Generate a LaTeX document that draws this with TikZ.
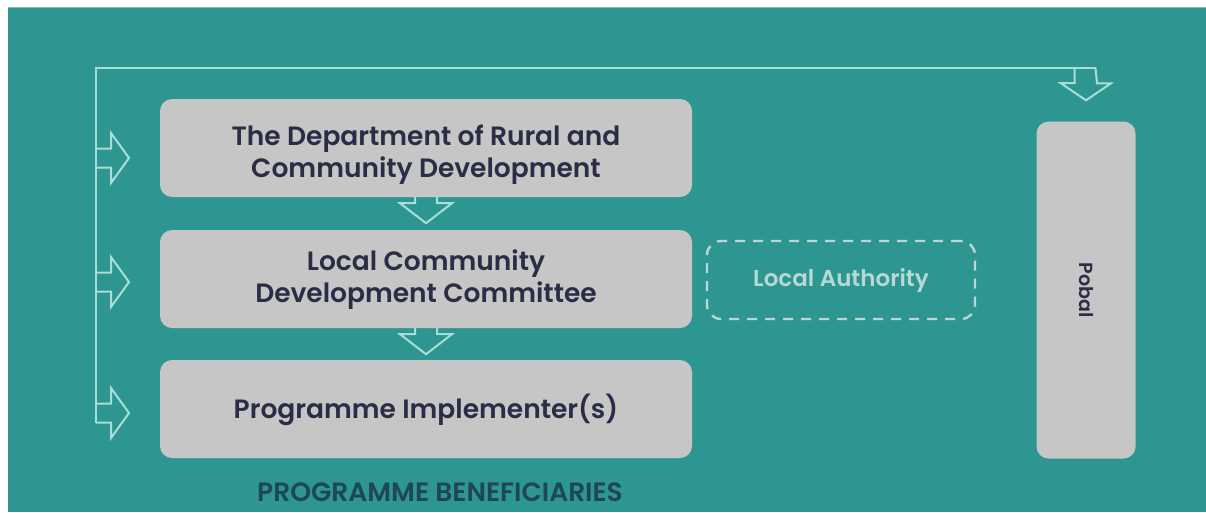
\documentclass[tikz,border=0pt]{standalone}
\usepackage{fontspec}
\setmainfont{Poppins}[UprightFont=* Medium, BoldFont=* SemiBold]
\usetikzlibrary{calc}
\definecolor{bgteal}{HTML}{2E9690}
\definecolor{boxgray}{HTML}{C6C6C6}
\definecolor{linet}{HTML}{A9DDD6}
\definecolor{navy}{HTML}{2A2D45}
\definecolor{latext}{HTML}{B7D8D4}
\definecolor{bentext}{HTML}{1D4756}
\tikzset{
  box/.style={fill=boxgray, rounded corners=12pt, minimum width=532pt, minimum height=98pt, inner sep=0pt},
  boxtext/.style={align=center, text=navy, font=\fontsize{26.5}{32}\selectfont\bfseries, inner sep=0pt},
  dashbox/.style={draw=latext, line width=2.4pt, dash pattern=on 10pt off 8pt, rounded corners=14pt,
    minimum width=268pt, minimum height=78pt, text=latext, font=\fontsize{23}{26}\selectfont\bfseries},
  flowline/.style={draw=linet, line width=2pt, line join=miter},
  downarr/.pic={\draw[flowline] (-11,0) -- (-11,6) -- (-26,6) -- (0,26) -- (26,6) -- (11,6) -- (11,0);},
  rightarr/.pic={\draw[flowline] (0,-9.5) -- (15,-9.5) -- (15,-25) -- (33,0) -- (15,25) -- (15,9.5) -- (0,9.5);}
}
\begin{document}
\begin{tikzpicture}[x=1pt,y=-1pt]
\useasboundingbox (0,0) rectangle (1206,512);
\fill[white] (0,0) rectangle (1206,512);
\fill[bgteal] (8,7) rectangle (1206,512);
\draw[linet!60!bgteal, line width=1pt] (8,7.5) -- (1206,7.5);

\node[box] (b1) at (426,148) {};
\node[box] (b2) at (426,279) {};
\node[box] (b3) at (426,409) {};
\node[boxtext] (t1) at ($(b1.center)+(0,7)$) {The Department of Rural and\\Community Development};
\node[boxtext] (t2) at ($(b2.center)+(0,1)$) {Local Community\\Development Committee};
\node[boxtext] (t3) at ($(b3.center)+(0,1)$) {Programme Implementer(s)};
\node[dashbox] (la) at (841,280) {Local Authority};
\node[fill=boxgray, rounded corners=12pt, minimum width=99pt, minimum height=337pt, inner sep=0pt] (pobal) at (1086,290) {};
\node[rotate=-90, text=navy, font=\fontsize{19}{26}\selectfont\bfseries] (pobaltxt) at (pobal.center) {Pobal};
\node[text=bentext, font=\fontsize{26.5}{28}\selectfont\bfseries] (ben) at (440,492) {PROGRAMME BENEFICIARIES};

% feedback line
\coordinate (tl) at (96,68);
\coordinate (bl) at (96,422.5);
\coordinate (tr) at ($(pobal.north |- tl)+(9.5,0)$);
\draw[flowline] (bl) -- (tl) -- (tr);
\draw[flowline] ($(tr)+(-21,0)$) -- ++(0,15) -- ++(-14,0) -- ($(pobal.north)+(0,-21)$) -- ++(25,-17) -- ++(-14,0) -- (tr);

\pic at (96,158) {rightarr};
\pic at (96,282) {rightarr};
\pic at (96,413) {rightarr};

\pic at (b1.south) {downarr};
\pic at (b2.south) {downarr};
\end{tikzpicture}
\end{document}
